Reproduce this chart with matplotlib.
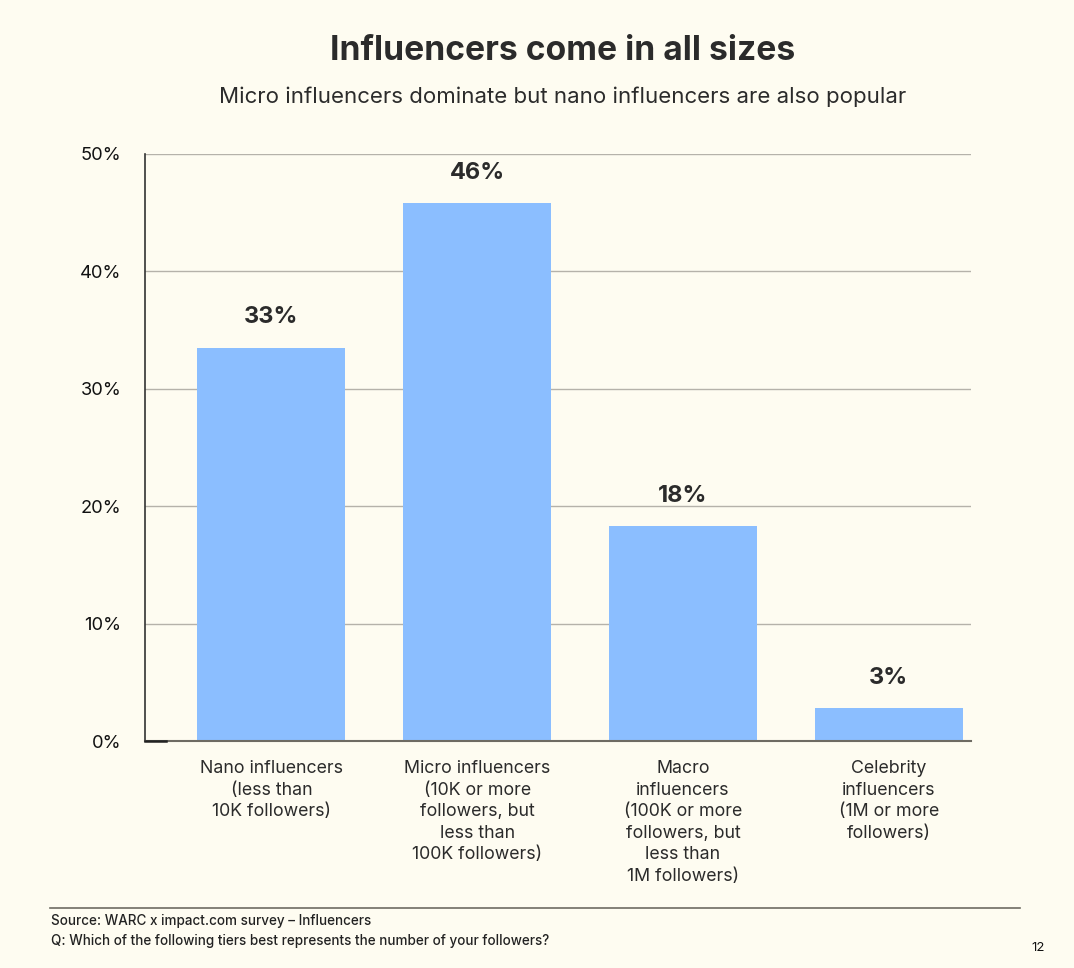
import matplotlib.pyplot as plt
from matplotlib.lines import Line2D

plt.rcParams['font.family'] = ['Inter', 'DejaVu Sans']

categories = [
    'Nano influencers\n(less than\n10K followers)',
    'Micro influencers\n(10K or more\nfollowers, but\nless than\n100K followers)',
    'Macro\ninfluencers\n(100K or more\nfollowers, but\nless than\n1M followers)',
    'Celebrity\ninfluencers\n(1M or more\nfollowers)',
]
values = [33.5, 45.8, 18.3, 2.8]
value_labels = ['33%', '46%', '18%', '3%']
yticks = [0, 10, 20, 30, 40, 50]

bg = '#FEFCF1'
bar_color = '#8BBEFF'
text_color = '#2B2B2B'

fig = plt.figure(figsize=(10.74, 9.68), dpi=100, facecolor=bg)
ax = fig.add_axes([145 / 1074, 1 - 741 / 968, (971 - 145) / 1074, (741 - 154) / 968])
ax.set_facecolor(bg)

x = range(len(categories))
ax.bar(x, values, width=0.72, color=bar_color, zorder=2)

for i, (v, lab) in enumerate(zip(values, value_labels)):
    ax.annotate(lab, (i, v), xytext=(0, 14), textcoords='offset points',
                ha='center', va='bottom', fontsize=17, fontweight='bold', color=text_color)

ax.set_xlim(-0.614, 3.40)
ax.set_ylim(0, 50)
ax.set_yticks(yticks)
ax.set_yticklabels([f'{t}%' for t in yticks], fontsize=13.2, color='#111111')
ax.set_xticks(list(x))
ax.set_xticklabels(categories, fontsize=12.8, color=text_color, linespacing=1.34, va='top')
ax.tick_params(axis='y', length=0, pad=17)
ax.tick_params(axis='x', length=0, pad=14)
ax.grid(axis='y', color='#B5B2AA', linewidth=1, zorder=0)

for s in ['top', 'right']:
    ax.spines[s].set_visible(False)
ax.spines['left'].set_color('#333333')
ax.spines['left'].set_linewidth(1.2)
ax.spines['bottom'].set_color('#6E6B63')
ax.spines['bottom'].set_linewidth(1.5)
ax.plot([-0.614, -0.51], [0, 0], color='#222222', linewidth=1.8, clip_on=False, zorder=3)

# title block is centred over the plot area rather than the page
cx = 563 / 1074
fig.text(cx, 1 - 51 / 968, 'Influencers come in all sizes', ha='center', va='center',
         fontsize=24.2, fontweight='bold', color=text_color)
fig.text(cx, 1 - 97 / 968, 'Micro influencers dominate but nano influencers are also popular',
         ha='center', va='center', fontsize=16, color=text_color)

fig.add_artist(Line2D([50 / 1074, 1020 / 1074], [1 - 908 / 968, 1 - 908 / 968],
                      color='#6E6B63', linewidth=1.2))
fig.text(51 / 1074, 1 - 921 / 968, 'Source: WARC x impact.com survey – Influencers',
         ha='left', va='center', fontsize=9.7, fontweight='medium', color='#222222')
fig.text(51 / 1074, 1 - 941 / 968,
         'Q: Which of the following tiers best represents the number of your followers?',
         ha='left', va='center', fontsize=9.7, fontweight='medium', color='#222222')
fig.text(1038 / 1074, 1 - 948 / 968, '12', ha='center', va='center', fontsize=9.5, color='#111111')

fig.savefig('out.png', dpi=100, facecolor=bg)
